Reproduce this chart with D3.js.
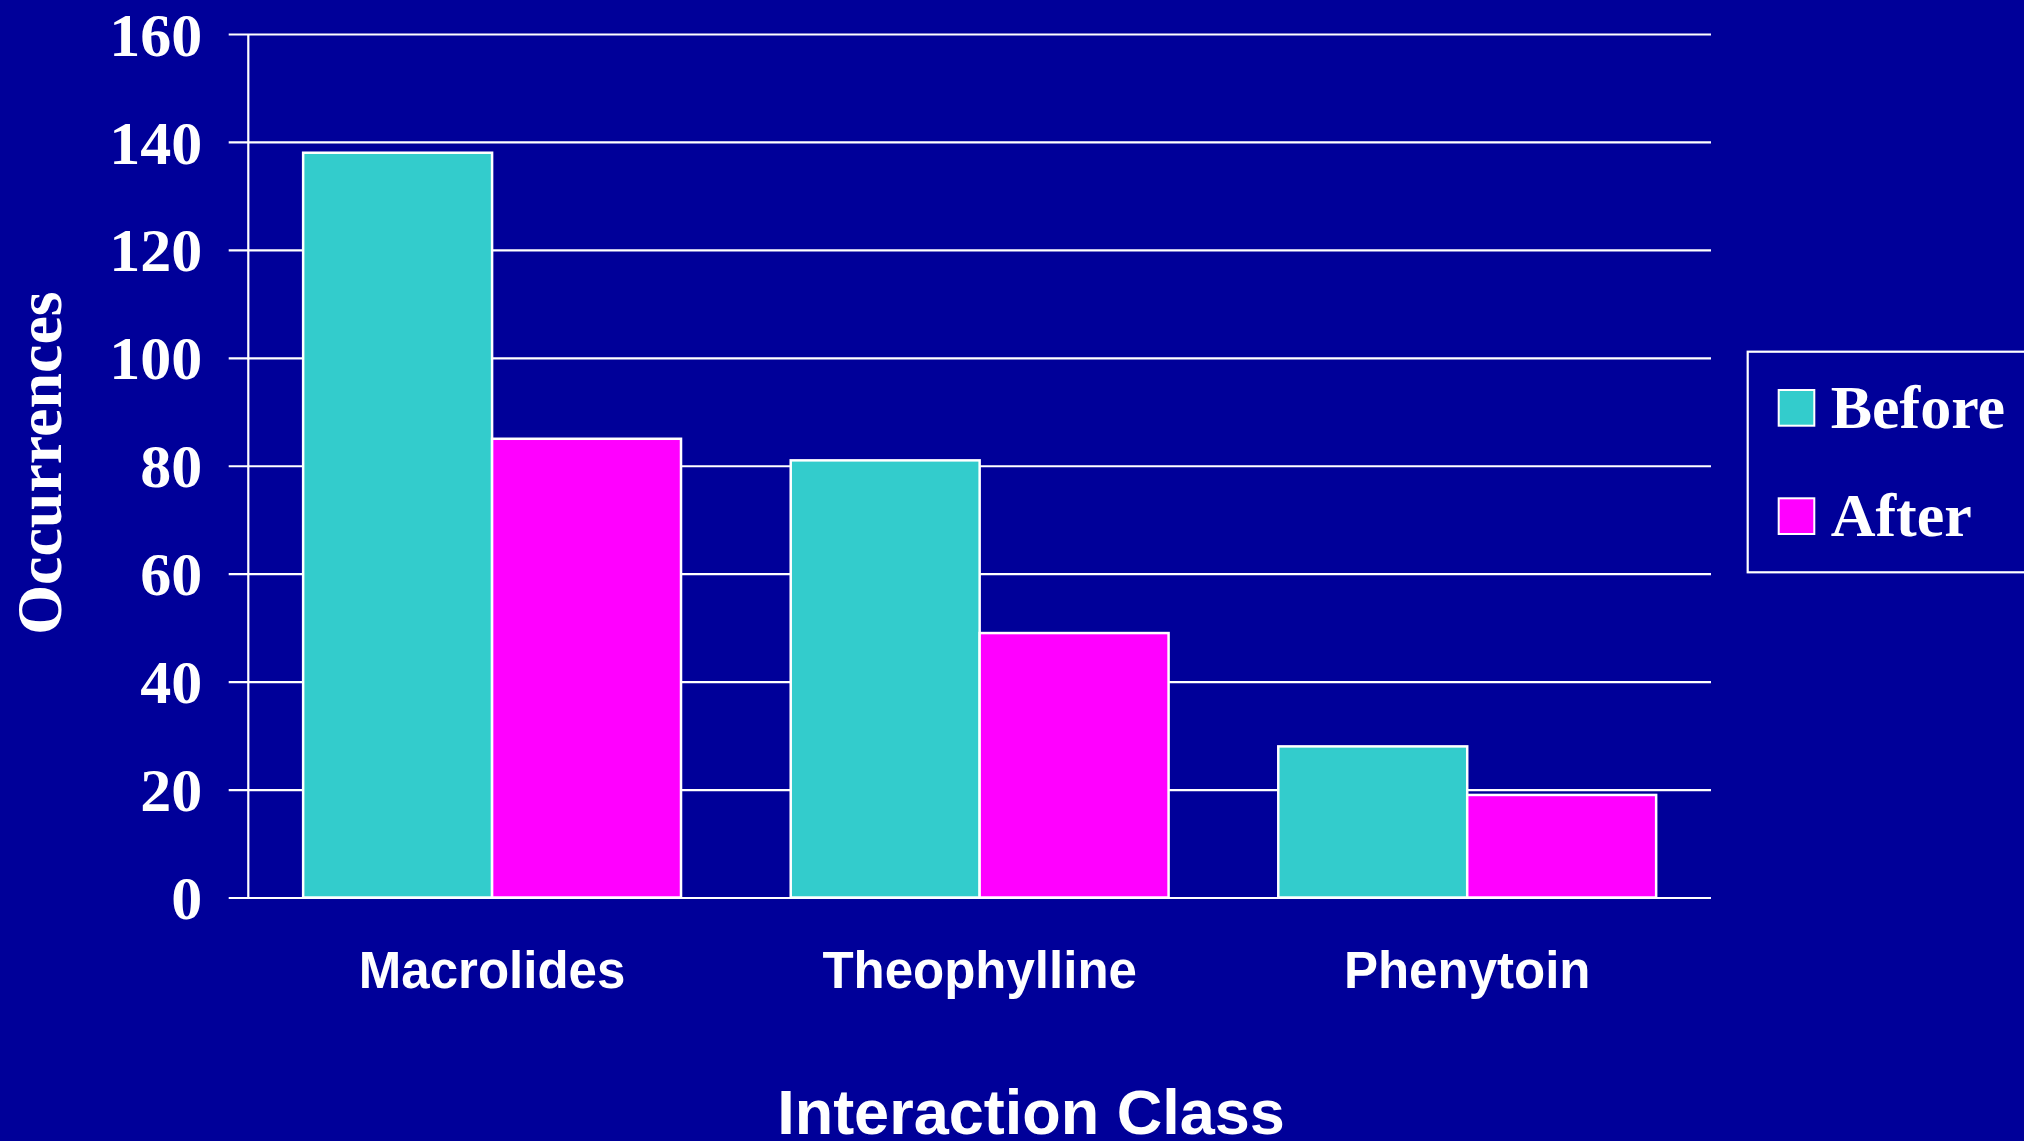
<!DOCTYPE html>
<html>
<head>
<meta charset="utf-8">
<script src="https://cdn.jsdelivr.net/npm/d3@7"></script>
<style>
  html, body { margin: 0; padding: 0; background: #000099; overflow: hidden; }
</style>
</head>
<body>
<script>
// bar chart of interactions before / after

(function(){

//data
var categories = ["Macrolides", "Theophylline", "Phenytoin"];
var seriesNames = ["Before", "After"];
var beforeValues = [138, 81, 28];
var afterValues = [85, 49, 19];
var yTicks = [0, 20, 40, 60, 80, 100, 120, 140, 160];

var colors = {Before: "#33cccc", After: "#ff00ff"};

window.onload = drawChart();

function drawChart(){
    var width = 2024,
        height = 1141;

    //plot area
    var left = 248.3, right = 1711, top = 34, bottom = 897.5;

    var svg = d3.select("body")
        .append("svg")
        .attr("width", width)
        .attr("height", height);

    svg.append("rect")
        .attr("width", width)
        .attr("height", height)
        .attr("fill", "#000099");

    //scales
    var x = d3.scaleBand()
        .domain(categories)
        .range([left, right])
        .paddingInner(0.225)
        .paddingOuter(0.1125);

    var xSub = d3.scaleBand()
        .domain(seriesNames)
        .range([0, x.bandwidth()]);

    var y = d3.scaleLinear()
        .domain([0, 160])
        .range([bottom, top]);

    //gridlines + tick labels
    var yAxis = svg.append("g")
        .attr("transform", "translate(" + left + ",0)")
        .call(d3.axisLeft(y)
            .tickValues(yTicks)
            .tickSize(-(right - left))
            .tickPadding(46));

    yAxis.select(".domain").remove();
    yAxis.selectAll(".tick line")
        .attr("x1", -19.6)
        .attr("stroke", "#ffffff")
        .attr("stroke-width", 2.2);
    yAxis.selectAll(".tick text")
        .attr("fill", "#ffffff")
        .attr("font-family", "'Liberation Serif', 'Times New Roman', serif")
        .attr("font-weight", "bold")
        .attr("font-size", 62)
        .attr("dy", "0.34em");

    //vertical axis line
    svg.append("line")
        .attr("x1", left).attr("x2", left)
        .attr("y1", y(160)).attr("y2", y(0))
        .attr("stroke", "#ffffff")
        .attr("stroke-width", 2.2);

    //bars
    var rows = categories.map(function(c, i){
        return {cat: c, Before: beforeValues[i], After: afterValues[i]};
    });

    var groups = svg.selectAll(".group")
        .data(rows)
        .enter()
        .append("g")
        .attr("class", "group")
        .attr("transform", function(d){ return "translate(" + x(d.cat) + ",0)"; });

    groups.selectAll("rect")
        .data(function(d){
            return seriesNames.map(function(s){ return {key: s, value: d[s]}; });
        })
        .enter()
        .append("rect")
        .attr("x", function(d){ return xSub(d.key); })
        .attr("y", function(d){ return y(d.value); })
        .attr("width", xSub.bandwidth())
        .attr("height", function(d){ return y(0) - y(d.value); })
        .attr("fill", function(d){ return colors[d.key]; })
        .attr("stroke", "#ffffff")
        .attr("stroke-width", 2.5);

    //category labels
    svg.selectAll(".catlabel")
        .data(categories)
        .enter()
        .append("text")
        .attr("class", "catlabel")
        .attr("x", function(d){ return x(d) + x.bandwidth() / 2; })
        .attr("y", 988)
        .attr("text-anchor", "middle")
        .attr("fill", "#ffffff")
        .attr("font-family", "'Liberation Sans', Arial, sans-serif")
        .attr("font-weight", "bold")
        .attr("font-size", 51)
        .text(function(d){ return d; });

    //axis titles
    svg.append("text")
        .attr("x", 1031)
        .attr("y", 1134)
        .attr("text-anchor", "middle")
        .attr("fill", "#ffffff")
        .attr("font-family", "'Liberation Sans', Arial, sans-serif")
        .attr("font-weight", "bold")
        .attr("font-size", 63)
        .text("Interaction Class");

    svg.append("text")
        .attr("transform", "translate(61," + 463 + ") rotate(-90)")
        .attr("text-anchor", "middle")
        .attr("fill", "#ffffff")
        .attr("font-family", "'Liberation Serif', 'Times New Roman', serif")
        .attr("font-weight", "bold")
        .attr("font-size", 64)
        .text("Occurrences");

    //legend
    var legend = svg.append("g")
        .attr("transform", "translate(1747.7,351.7)");

    legend.append("rect")
        .attr("x", 0)
        .attr("y", 0)
        .attr("width", 400)
        .attr("height", 220.6)
        .attr("fill", "none")
        .attr("stroke", "#ffffff")
        .attr("stroke-width", 2.2);

    var items = legend.selectAll(".item")
        .data(seriesNames)
        .enter()
        .append("g")
        .attr("class", "item")
        .attr("transform", function(d, i){ return "translate(0," + (i * 108.3) + ")"; });

    items.append("rect")
        .attr("x", 31)
        .attr("y", 38.3)
        .attr("width", 35.6)
        .attr("height", 35.7)
        .attr("fill", function(d){ return colors[d]; })
        .attr("stroke", "#ffffff")
        .attr("stroke-width", 2);

    items.append("text")
        .attr("x", 83)
        .attr("y", 76)
        .attr("fill", "#ffffff")
        .attr("font-family", "'Liberation Serif', 'Times New Roman', serif")
        .attr("font-weight", "bold")
        .attr("font-size", 62)
        .text(function(d){ return d; });
};

})();
</script>
</body>
</html>
